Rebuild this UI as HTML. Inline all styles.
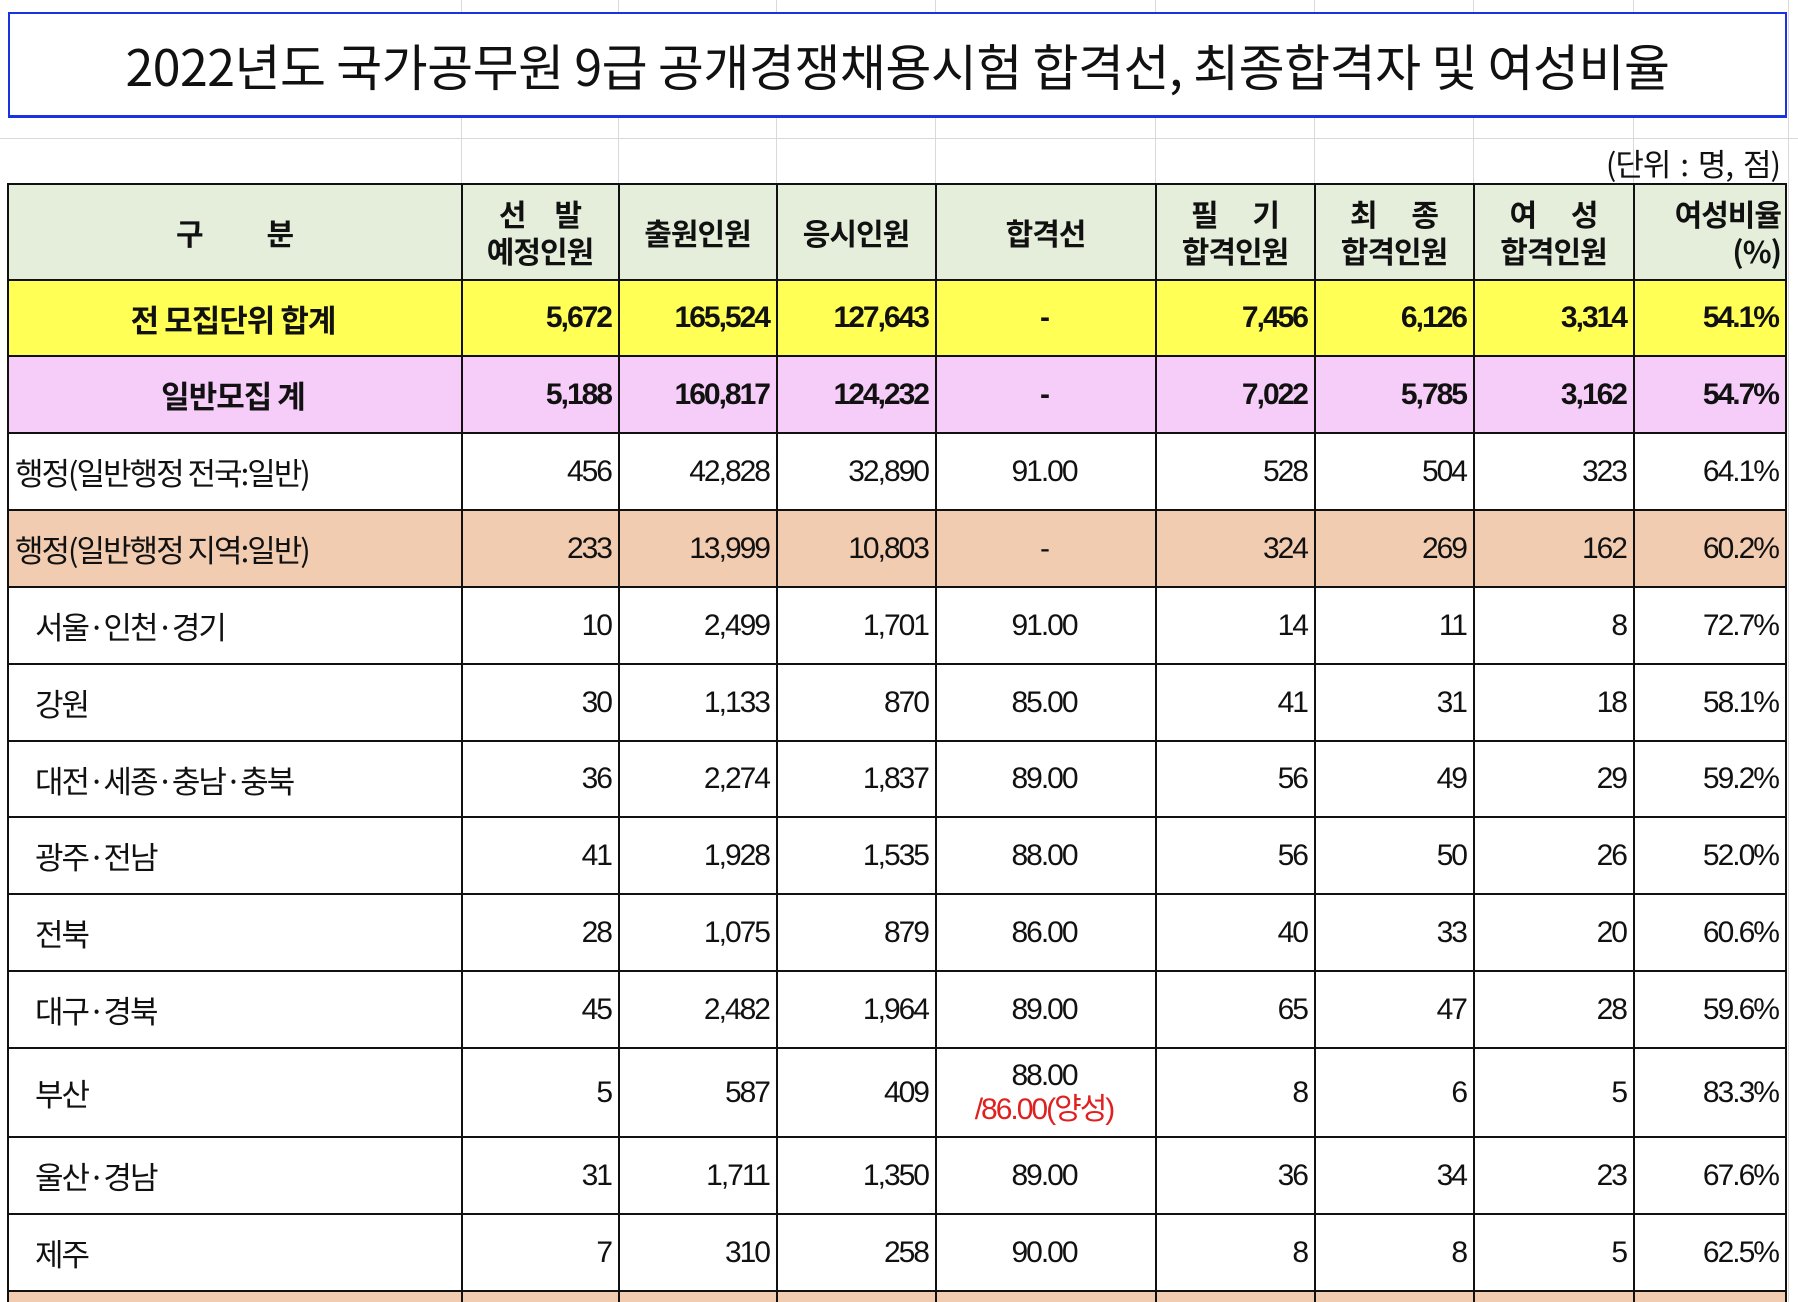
<!DOCTYPE html>
<html><head><meta charset="utf-8">
<style>
html,body{margin:0;padding:0;background:#fff;width:1798px;height:1302px;overflow:hidden;position:relative;font-family:"Liberation Sans Narrow","Liberation Sans","Noto Sans CJK KR",sans-serif;}
.g{position:absolute;background:#d9d9d9;}
#title{position:absolute;left:8px;top:12px;width:1775px;height:101px;border:2px solid #1a33e0;border-bottom-width:3px;background:#fff;display:flex;align-items:center;justify-content:center;font-family:"Noto Sans CJK KR",sans-serif;font-size:50px;letter-spacing:-0.5px;color:#111;}
#unit{position:absolute;right:18px;top:140px;font-family:"Noto Sans CJK KR",sans-serif;font-size:31px;color:#111;letter-spacing:-1px;word-spacing:4px;}
table{position:absolute;left:7px;top:183px;border-collapse:collapse;table-layout:fixed;font-size:30px;color:#111;}
td{border:2px solid #111;padding:0 7px 0 3px;white-space:nowrap;overflow:hidden;text-align:right;letter-spacing:-2px;}
td.l{text-align:left;font-family:"Noto Sans CJK KR",sans-serif;font-size:31px;letter-spacing:-2px;padding-left:6px;}
td.in{padding-left:26px;}
td.c{text-align:center;}
tr.h td{background:#e4eedb;font-family:"Noto Sans CJK KR",sans-serif;font-weight:bold;font-size:30px;line-height:37px;letter-spacing:-1px;padding-right:4px;}
tr.y td{background:#ffff55;font-weight:bold;}
tr.p td{background:#f5cdf8;font-weight:bold;}
tr.o td{background:#f2ccb0;}
tr.y td.c.lab, tr.p td.c.lab{font-family:"Noto Sans CJK KR",sans-serif;font-size:31px;letter-spacing:-1px;}
.red{color:#e02020;}
</style></head><body>
<div class="g" style="left:0;top:138px;width:1798px;height:1px"></div>
<div class="g" style="left:461px;top:0;width:1px;height:183px"></div>
<div class="g" style="left:618px;top:0;width:1px;height:183px"></div>
<div class="g" style="left:776px;top:0;width:1px;height:183px"></div>
<div class="g" style="left:935px;top:0;width:1px;height:183px"></div>
<div class="g" style="left:1155px;top:0;width:1px;height:183px"></div>
<div class="g" style="left:1314px;top:0;width:1px;height:183px"></div>
<div class="g" style="left:1473px;top:0;width:1px;height:183px"></div>
<div class="g" style="left:1633px;top:0;width:1px;height:183px"></div>
<div class="g" style="left:1788px;top:0;width:1px;height:1302px"></div>
<div id="title">2022년도 국가공무원 9급 공개경쟁채용시험 합격선, 최종합격자 및 여성비율</div>
<div id="unit">(단위 : 명, 점)</div>
<table>
<colgroup><col style="width:454px"><col style="width:157px"><col style="width:158px"><col style="width:159px"><col style="width:220px"><col style="width:159px"><col style="width:159px"><col style="width:160px"><col style="width:152px"></colgroup>
<tr class="h" style="height:96px">
<td class="c">구&nbsp;&nbsp;&nbsp;&nbsp;&nbsp;&nbsp;&nbsp;&nbsp;&nbsp;&nbsp;&nbsp;분</td>
<td class="c">선&nbsp;&nbsp;&nbsp;&nbsp;&nbsp;발<br>예정인원</td>
<td class="c">출원인원</td>
<td class="c">응시인원</td>
<td class="c">합격선</td>
<td class="c">필&nbsp;&nbsp;&nbsp;&nbsp;&nbsp;&nbsp;기<br>합격인원</td>
<td class="c">최&nbsp;&nbsp;&nbsp;&nbsp;&nbsp;&nbsp;종<br>합격인원</td>
<td class="c">여&nbsp;&nbsp;&nbsp;&nbsp;&nbsp;&nbsp;성<br>합격인원</td>
<td>여성비율<br>(%)</td>
</tr>
<tr class="y" style="height:76px"><td class="c lab">전 모집단위 합계</td><td>5,672</td><td>165,524</td><td>127,643</td><td class="c">-</td><td>7,456</td><td>6,126</td><td>3,314</td><td>54.1%</td></tr>
<tr class="p" style="height:77px"><td class="c lab">일반모집 계</td><td>5,188</td><td>160,817</td><td>124,232</td><td class="c">-</td><td>7,022</td><td>5,785</td><td>3,162</td><td>54.7%</td></tr>
<tr style="height:77px"><td class="l">행정(일반행정 전국:일반)</td><td>456</td><td>42,828</td><td>32,890</td><td class="c">91.00</td><td>528</td><td>504</td><td>323</td><td>64.1%</td></tr>
<tr class="o" style="height:77px"><td class="l">행정(일반행정 지역:일반)</td><td>233</td><td>13,999</td><td>10,803</td><td class="c">-</td><td>324</td><td>269</td><td>162</td><td>60.2%</td></tr>
<tr style="height:77px"><td class="l in">서울·인천·경기</td><td>10</td><td>2,499</td><td>1,701</td><td class="c">91.00</td><td>14</td><td>11</td><td>8</td><td>72.7%</td></tr>
<tr style="height:77px"><td class="l in">강원</td><td>30</td><td>1,133</td><td>870</td><td class="c">85.00</td><td>41</td><td>31</td><td>18</td><td>58.1%</td></tr>
<tr style="height:76px"><td class="l in">대전·세종·충남·충북</td><td>36</td><td>2,274</td><td>1,837</td><td class="c">89.00</td><td>56</td><td>49</td><td>29</td><td>59.2%</td></tr>
<tr style="height:77px"><td class="l in">광주·전남</td><td>41</td><td>1,928</td><td>1,535</td><td class="c">88.00</td><td>56</td><td>50</td><td>26</td><td>52.0%</td></tr>
<tr style="height:77px"><td class="l in">전북</td><td>28</td><td>1,075</td><td>879</td><td class="c">86.00</td><td>40</td><td>33</td><td>20</td><td>60.6%</td></tr>
<tr style="height:77px"><td class="l in">대구·경북</td><td>45</td><td>2,482</td><td>1,964</td><td class="c">89.00</td><td>65</td><td>47</td><td>28</td><td>59.6%</td></tr>
<tr style="height:89px"><td class="l in">부산</td><td>5</td><td>587</td><td>409</td><td class="c" style="line-height:34px">88.00<br><span class="red">/86.00(양성)</span></td><td>8</td><td>6</td><td>5</td><td>83.3%</td></tr>
<tr style="height:77px"><td class="l in">울산·경남</td><td>31</td><td>1,711</td><td>1,350</td><td class="c">89.00</td><td>36</td><td>34</td><td>23</td><td>67.6%</td></tr>
<tr style="height:77px"><td class="l in">제주</td><td>7</td><td>310</td><td>258</td><td class="c">90.00</td><td>8</td><td>8</td><td>5</td><td>62.5%</td></tr>
<tr class="o" style="height:20px"><td></td><td></td><td></td><td></td><td></td><td></td><td></td><td></td><td></td></tr>
</table>
</body></html>
